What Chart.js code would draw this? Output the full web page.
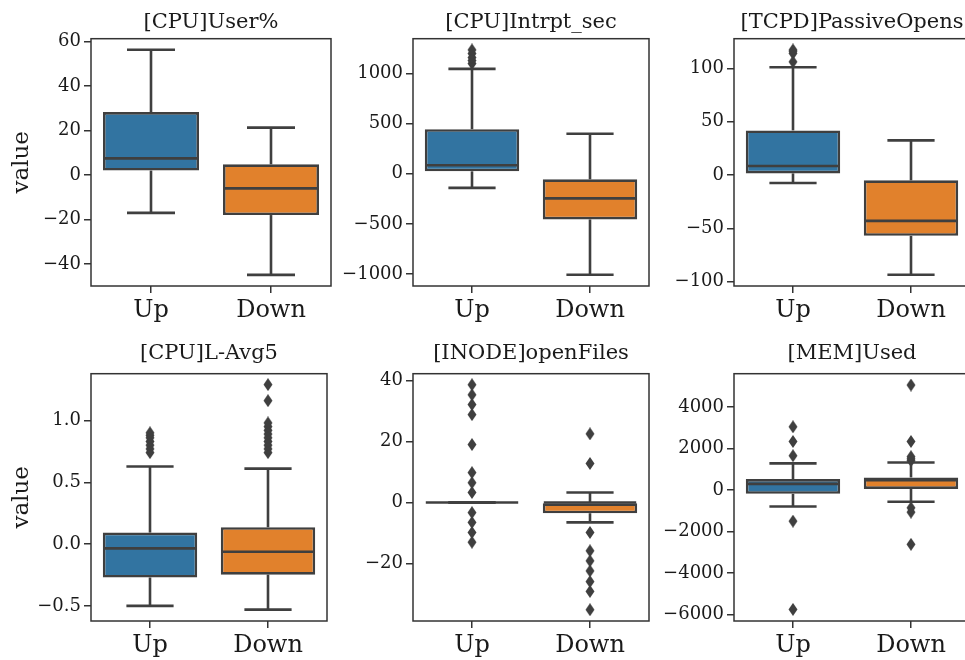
<!DOCTYPE html>
<html>
<head>
<meta charset="utf-8">
<script src="https://cdn.jsdelivr.net/npm/chart.js@4"></script>
<style>
  html, body { margin: 0; padding: 0; background: #fff; }
  #fig { position: relative; width: 965px; height: 660px; overflow: hidden; background: #fff; }
  #fig canvas { position: absolute; }
</style>
</head>
<body>
<div id="fig"></div>
<script>
// -------------------------
// Data
// -------------------------
const categories = ["Up", "Down"];
const panelTitles = ["[CPU]User%", "[CPU]Intrpt_sec", "[TCPD]PassiveOpens",
                     "[CPU]L-Avg5", "[INODE]openFiles", "[MEM]Used"];

// five number summary: [lower whisker, q1, median, q3, upper whisker]
const cpuUserUp = [-17, 2, 7.5, 28.3, 56.3];
const cpuUserDown = [-44.9, -18, -6, 4.8, 21.3];
const cpuUserFliersUp = [];
const cpuUserFliersDown = [];
const cpuUserTicks = [-40, -20, 0, 20, 40, 60];
const cpuUserTickLabels = ["−40", "−20", "0", "20", "40", "60"];
const cpuUserRange = [-49.9, 61.3];

const intrptUp = [-140, 25, 85, 445, 1047];
const intrptDown = [-1007, -455, -245, -55, 400];
const intrptFliersUp = [1100, 1130, 1160, 1200, 1236];
const intrptFliersDown = [];
const intrptTicks = [-1000, -500, 0, 500, 1000];
const intrptTickLabels = ["−1000", "−500", "0", "500", "1000"];
const intrptRange = [-1119, 1348];

const passiveUp = [-7.5, 1.5, 8.4, 41.8, 101];
const passiveDown = [-93.5, -57, -43, -5, 32.4];
const passiveFliersUp = [106, 114, 116, 117.2];
const passiveFliersDown = [];
const passiveTicks = [-100, -50, 0, 50, 100];
const passiveTickLabels = ["−100", "−50", "0", "50", "100"];
const passiveRange = [-104, 127.7];

const loadAvgUp = [-0.5, -0.27, -0.035, 0.093, 0.627];
const loadAvgDown = [-0.53, -0.247, -0.062, 0.136, 0.61];
const loadAvgFliersUp = [0.74, 0.77, 0.8, 0.83, 0.86, 0.88, 0.9];
const loadAvgFliersDown = [0.74, 0.77, 0.8, 0.83, 0.86, 0.89, 0.92, 0.95, 0.98, 1.16, 1.29];
const loadAvgTicks = [-0.5, 0, 0.5, 1.0];
const loadAvgTickLabels = ["−0.5", "0.0", "0.5", "1.0"];
const loadAvgRange = [-0.622, 1.378];

const openFilesUp = [0, 0, 0, 0, 0];
const openFilesDown = [-6.5, -3.5, 0, 0, 3.3];
const openFilesFliersUp = [-13, -9.8, -6.5, -3.3, 3.3, 6.5, 9.8, 19, 28.8, 32.1, 35.3, 38.6];
const openFilesFliersDown = [-35.1, -29.1, -25.9, -22.4, -19.1, -15.8, -9.8, 12.8, 22.5];
const openFilesTicks = [-20, 0, 20, 40];
const openFilesTickLabels = ["−20", "0", "20", "40"];
const openFilesRange = [-38.8, 42.2];

const memUp = [-800, -190, 290, 520, 1277];
const memDown = [-570, 45, 470, 600, 1320];
const memFliersUp = [-5760, -1507, 1647, 2333, 3040];
const memFliersDown = [-2626, -1075, -864, 1408, 1500, 1600, 2333, 5055];
const memTicks = [-6000, -4000, -2000, 0, 2000, 4000];
const memTickLabels = ["−6000", "−4000", "−2000", "0", "2000", "4000"];
const memRange = [-6320, 5600];

// -------------------------
// Style / layout
// -------------------------
const FONT = "'DejaVu Serif', serif";
const TEXT = "#1a1a1a";
const EDGE = "#3f3f3f";
const BOX_COLORS = ["#3274a1", "#e1812c"];

const colLeft = [91, 413, 734];
const rowTop = [38, 373];
const AXW = 240, AXH = 248;
const YW = 90, TOPH = 40, XH = 44;
const titlePad = [{ top: 12, bottom: 3.5 }, { top: 7.5, bottom: 8 }];

const panels = [
    { up: cpuUserUp, down: cpuUserDown, fUp: cpuUserFliersUp, fDown: cpuUserFliersDown, ticks: cpuUserTicks, labels: cpuUserTickLabels, range: cpuUserRange },
    { up: intrptUp, down: intrptDown, fUp: intrptFliersUp, fDown: intrptFliersDown, ticks: intrptTicks, labels: intrptTickLabels, range: intrptRange },
    { up: passiveUp, down: passiveDown, fUp: passiveFliersUp, fDown: passiveFliersDown, ticks: passiveTicks, labels: passiveTickLabels, range: passiveRange },
    { up: loadAvgUp, down: loadAvgDown, fUp: loadAvgFliersUp, fDown: loadAvgFliersDown, ticks: loadAvgTicks, labels: loadAvgTickLabels, range: loadAvgRange },
    { up: openFilesUp, down: openFilesDown, fUp: openFilesFliersUp, fDown: openFilesFliersDown, ticks: openFilesTicks, labels: openFilesTickLabels, range: openFilesRange },
    { up: memUp, down: memDown, fUp: memFliersUp, fDown: memFliersDown, ticks: memTicks, labels: memTickLabels, range: memRange }
];

// thin diamond marker (matplotlib "d")
const diamond = document.createElement("canvas");
diamond.width = 10;
diamond.height = 13;
(function () {
    const c = diamond.getContext("2d");
    c.fillStyle = EDGE;
    c.beginPath();
    c.moveTo(5, 0);
    c.lineTo(9.5, 6.5);
    c.lineTo(5, 13);
    c.lineTo(0.5, 6.5);
    c.closePath();
    c.fill();
})();

// whiskers, caps, medians and the full axes frame
function boxPlugin(stats) {
    return {
        id: "boxWhiskers",
        afterDatasetsDraw(chart) {
            const ctx = chart.ctx;
            const y = chart.scales.y;
            const meta = chart.getDatasetMeta(0);
            ctx.save();
            ctx.strokeStyle = EDGE;
            ctx.lineWidth = 2.6;
            ctx.lineCap = "butt";
            const line = (x1, y1, x2, y2) => {
                ctx.beginPath();
                ctx.moveTo(x1, y1);
                ctx.lineTo(x2, y2);
                ctx.stroke();
            };
            meta.data.forEach((bar, i) => {
                const s = stats[i];
                const x = bar.x;
                const half = bar.width / 2;
                line(x, y.getPixelForValue(s[0]), x, y.getPixelForValue(s[1]));
                line(x, y.getPixelForValue(s[3]), x, y.getPixelForValue(s[4]));
                line(x - half / 2, y.getPixelForValue(s[0]), x + half / 2, y.getPixelForValue(s[0]));
                line(x - half / 2, y.getPixelForValue(s[4]), x + half / 2, y.getPixelForValue(s[4]));
                line(x - half + 1, y.getPixelForValue(s[2]), x + half - 1, y.getPixelForValue(s[2]));
            });
            const a = chart.chartArea;
            ctx.lineWidth = 1.5;
            ctx.strokeStyle = "#333333";
            ctx.strokeRect(a.left, a.top, a.right - a.left, a.bottom - a.top);
            ctx.restore();
        }
    };
}

const fig = document.getElementById("fig");

panels.forEach((p, idx) => {
    const row = Math.floor(idx / 3);
    const col = idx % 3;

    const canvas = document.createElement("canvas");
    canvas.width = YW + AXW + 2;
    canvas.height = TOPH + AXH + XH;
    canvas.style.left = (colLeft[col] - YW) + "px";
    canvas.style.top = (rowTop[row] - TOPH) + "px";
    fig.appendChild(canvas);

    const fliers = p.fUp.map(v => ({ x: categories[0], y: v }))
        .concat(p.fDown.map(v => ({ x: categories[1], y: v })));

    new Chart(canvas, {
        type: "bar",
        data: {
            labels: categories,
            datasets: [{
                type: "bar",
                data: [[p.up[1], p.up[3]], [p.down[1], p.down[3]]],
                backgroundColor: BOX_COLORS,
                borderColor: EDGE,
                borderWidth: 2.6,
                borderSkipped: false,
                barPercentage: 0.8,
                categoryPercentage: 1.0,
                order: 2
            }, {
                type: "line",
                data: fliers,
                showLine: false,
                pointStyle: diamond,
                pointRadius: 5,
                order: 1
            }]
        },
        plugins: [boxPlugin([p.up, p.down])],
        options: {
            responsive: false,
            animation: false,
            devicePixelRatio: 1,
            layout: { padding: { left: 0, right: 2, top: 0, bottom: 0 } },
            plugins: {
                legend: { display: false },
                tooltip: { enabled: false },
                title: {
                    display: true,
                    fullSize: false,
                    text: panelTitles[idx],
                    color: TEXT,
                    font: { family: FONT, size: 21, weight: "normal", lineHeight: 1.2 },
                    padding: titlePad[row]
                }
            },
            scales: {
                x: {
                    type: "category",
                    offset: true,
                    border: { display: false },
                    grid: { offset: false, drawOnChartArea: false, drawTicks: true, tickLength: 7, color: "#333333", lineWidth: 1.5 },
                    ticks: { color: TEXT, padding: 3, font: { family: FONT, size: 24, lineHeight: 1.2 } },
                    afterFit(scale) { scale.height = XH; }
                },
                y: {
                    min: p.range[0],
                    max: p.range[1],
                    border: { display: false },
                    grid: { drawOnChartArea: false, drawTicks: true, tickLength: 7, color: "#333333", lineWidth: 1.5 },
                    ticks: {
                        color: TEXT,
                        padding: 3,
                        font: { family: FONT, size: 18 },
                        callback: (v, i) => p.labels[i]
                    },
                    title: {
                        display: col === 0,
                        text: "value",
                        color: TEXT,
                        font: { family: FONT, size: 23, lineHeight: 1.2 },
                        padding: { top: 7, bottom: 0 }
                    },
                    afterBuildTicks(scale) { scale.ticks = p.ticks.map(v => ({ value: v })); },
                    afterFit(scale) { scale.width = YW; }
                }
            }
        }
    });
});
</script>
</body>
</html>
